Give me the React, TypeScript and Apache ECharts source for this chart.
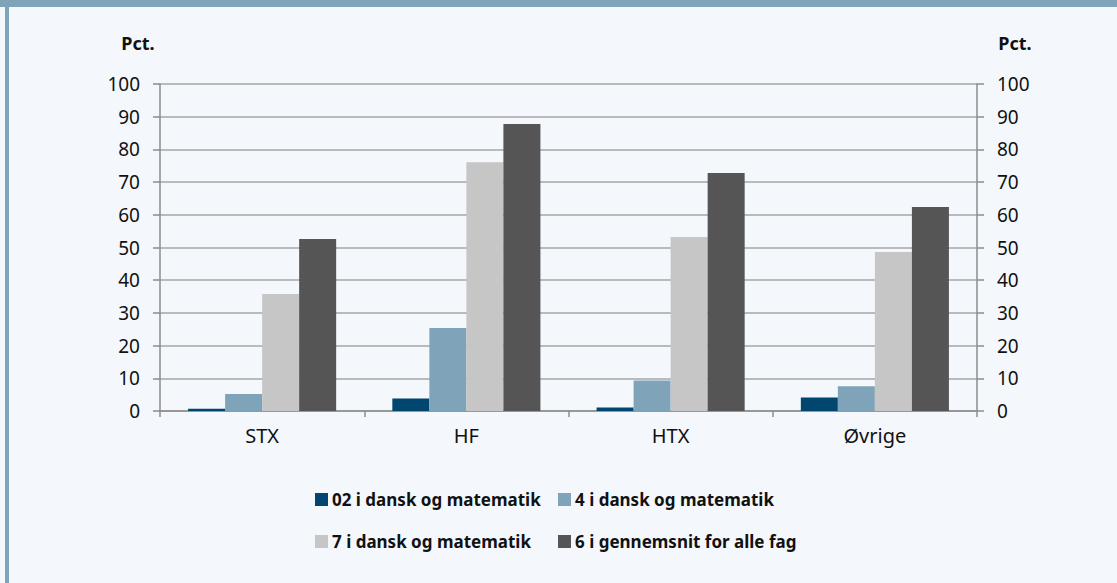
import React, { useEffect, useRef } from "react";
import * as echarts from "echarts";

const categories = ["STX", "HF", "HTX", "Øvrige"];
const seriesNames = [
  "02 i dansk og matematik",
  "4 i dansk og matematik",
  "7 i dansk og matematik",
  "6 i gennemsnit for alle fag",
];
const s02 = [0.7, 3.8, 1.1, 4.1];
const s4 = [5.2, 25.4, 9.3, 7.6];
const s7 = [35.8, 76.1, 53.2, 48.6];
const s6 = [52.6, 87.8, 72.8, 62.4];
const colors = ["#00466f", "#7fa3b8", "#c6c6c6", "#555555"];
const unitLabel = "Pct.";

const FONT = "'Noto Sans', sans-serif";

export default function App() {
  const ref = useRef<HTMLDivElement>(null);
  useEffect(() => {
    document.body.style.margin = "0";
    const chart = echarts.init(ref.current!, undefined, { renderer: "svg" });
    const values = [s02, s4, s7, s6];
    const legendPos = [
      { left: 310, top: 486 },
      { left: 553, top: 486 },
      { left: 310, top: 528 },
      { left: 553, top: 528 },
    ];
    const yAxisBase = {
      type: "value",
      min: 0,
      max: 100,
      interval: 10,
      axisLine: { show: true, lineStyle: { color: "#8c8c8c", width: 1.5 } },
      axisTick: { show: true, length: 7, lineStyle: { color: "#8c8c8c", width: 1.5 } },
      splitLine: { show: true, lineStyle: { color: "#a6a6a6", width: 1.5 } },
      axisLabel: { color: "#111", fontSize: 19, fontFamily: FONT, margin: 20 },
    };
    chart.setOption({
      animation: false,
      backgroundColor: "#f4f8fc",
      graphic: [
        { type: "rect", left: 0, top: 0, shape: { width: 1117, height: 7 }, style: { fill: "#7fa3b8" } },
        { type: "rect", left: 5, top: 0, shape: { width: 4, height: 583 }, style: { fill: "#7fa3b8" } },
        {
          type: "text",
          x: 138,
          y: 43,
          style: {
            text: unitLabel,
            fill: "#111",
            font: `bold 18px ${FONT}`,
            align: "center",
            verticalAlign: "middle",
          },
        },
        {
          type: "text",
          x: 1015,
          y: 43,
          style: {
            text: unitLabel,
            fill: "#111",
            font: `bold 18px ${FONT}`,
            align: "center",
            verticalAlign: "middle",
          },
        },
      ],
      grid: { left: 160, right: 140, top: 84, bottom: 172, containLabel: false },
      legend: seriesNames.map((n, i) => ({
        data: [n],
        left: legendPos[i].left,
        top: legendPos[i].top,
        itemWidth: 13,
        itemHeight: 13,
        icon: "rect",
        itemGap: 4,
        textStyle: { color: "#111", fontSize: 17, fontWeight: "bold", fontFamily: FONT, padding: [0, 0, 0, -1] },
      })),
      xAxis: {
        type: "category",
        data: categories,
        axisLine: { show: true, lineStyle: { color: "#8c8c8c", width: 1.5 } },
        axisTick: { show: true, length: 6, alignWithLabel: false, lineStyle: { color: "#8c8c8c", width: 1.5 } },
        axisLabel: { color: "#111", fontSize: 20, fontFamily: FONT, margin: 14 },
      },
      yAxis: [
        { ...yAxisBase, position: "left" },
        { ...yAxisBase, position: "right", splitLine: { show: false } },
      ],
      series: values.map((v, i) => ({
        name: seriesNames[i],
        type: "bar",
        data: v,
        barGap: "0%",
        barCategoryGap: "27.5%",
        itemStyle: { color: colors[i] },
      })),
    });
    return () => chart.dispose();
  }, []);
  return (
    <div
      ref={ref}
      style={{ position: "absolute", left: 0, top: 0, width: 1117, height: 583 }}
    />
  );
}
